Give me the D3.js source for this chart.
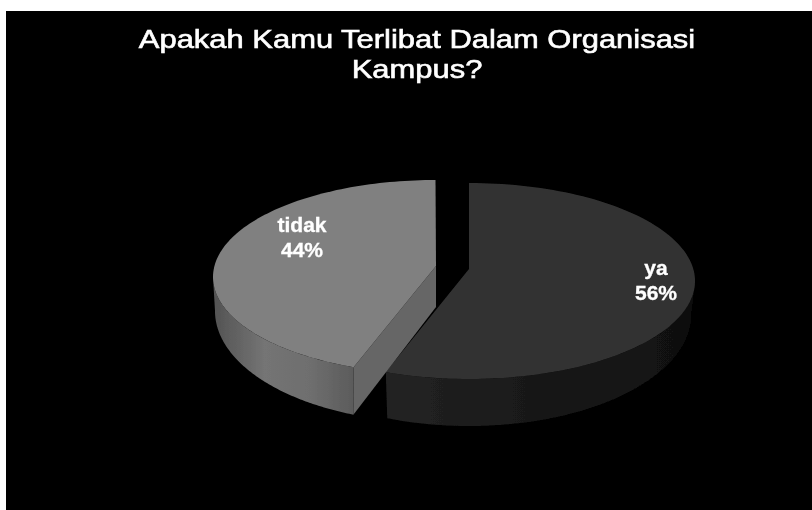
<!DOCTYPE html>
<html>
<head>
<meta charset="utf-8">
<script src="https://cdn.jsdelivr.net/npm/d3@7"></script>
<style>
  html, body { margin: 0; padding: 0; background: #fff; }
  svg { display: block; }
  text { font-family: "Liberation Sans", Arial, sans-serif; fill: #fff; text-anchor: middle; }
</style>
</head>
<body>
<svg width="812" height="510"></svg>
<script>
const categories = ["ya", "tidak"];
const values = [56, 44];
const titleLines = ["Apakah Kamu Terlibat Dalam Organisasi", "Kampus?"];

const width = 812, height = 510;

// each slice is an exploded, tilted disc: top ellipse + bottom ellipse + tip
const geom = {
    ya: {
        top: {cx: 469, cy: 281, rx: 226, ry: 98},
        bottom: {cx: 469, cy: 315, rx: 222, ry: 111},
        tip: [469, 269], fill: "#333333", gradient: "sideYa",
        label: {x: 656, y: 275}
    },
    tidak: {
        top: {cx: 435.5, cy: 277, rx: 222.5, ry: 97},
        bottom: {cx: 434, cy: 311, rx: 219, ry: 111.5},
        tip: [436, 266], tipBottom: [436, 307], fill: "#808080", gradient: "sideTidak",
        label: {x: 302, y: 232}
    }
};

const svg = d3.select("svg");

svg.append("rect")
    .attr("x", 6).attr("y", 11)
    .attr("width", width - 6).attr("height", height - 11)
    .attr("fill", "#000");

const defs = svg.append("defs");

function addGradient(id, x1, x2, stops) {
    const g = defs.append("linearGradient")
        .attr("id", id)
        .attr("gradientUnits", "userSpaceOnUse")
        .attr("x1", x1).attr("x2", x2)
        .attr("y1", 0).attr("y2", 0);
    stops.forEach(s => g.append("stop").attr("offset", s[0]).attr("stop-color", s[1]));
}
addGradient("sideYa", 388, 692, [[0, "#232323"], [0.5, "#181818"], [1, "#101010"]]);
addGradient("sideTidak", 217, 352, [[0, "#555555"], [0.35, "#747474"], [0.7, "#6e6e6e"], [1, "#5c5c5c"]]);

defs.append("filter").attr("id", "soft")
    .append("feGaussianBlur").attr("stdDeviation", 0.5);
defs.append("filter").attr("id", "softText")
    .attr("x", "-5%").attr("width", "110%")
    .append("feGaussianBlur").attr("stdDeviation", 0.35);

const pie = d3.pie().sort(null)(values);
const slices = categories.map((c, i) => ({
    name: c,
    value: values[i],
    start: pie[i].startAngle,
    end: pie[i].endAngle,
    g: geom[c]
}));

// angle is clockwise from 12 o'clock, as d3.pie gives it
const onEllipse = (e, a) => [e.cx + e.rx * Math.sin(a), e.cy - e.ry * Math.cos(a)];
const sample = (e, a0, a1) => d3.range(0, 121).map(i => onEllipse(e, a0 + (a1 - a0) * i / 120));
const line = d3.line();

const plot = svg.append("g").attr("filter", "url(#soft)");

slices.forEach(s => {
    // outer wall, only the part facing the viewer
    const a0 = Math.max(s.start, Math.PI / 2);
    const a1 = Math.min(s.end, Math.PI * 1.5);
    plot.append("path")
        .attr("d", line(sample(s.g.top, a0, a1).concat(sample(s.g.bottom, a1, a0))) + "Z")
        .attr("fill", `url(#${s.g.gradient})`);

    // cut face towards the gap
    if (s.g.tipBottom) {
        plot.append("path")
            .attr("d", line([s.g.tip, onEllipse(s.g.top, s.start), onEllipse(s.g.bottom, s.start), s.g.tipBottom]) + "Z")
            .attr("fill", "#666666");
    }

    plot.append("path")
        .attr("d", line([s.g.tip].concat(sample(s.g.top, s.start, s.end))) + "Z")
        .attr("fill", s.g.fill);
});

// title, the original is stretched sideways
svg.selectAll(".title").data(titleLines).enter().append("text")
    .attr("class", "title")
    .attr("transform", (d, i) => `translate(417,${47.5 + i * 30}) scale(1.19,1)`)
    .attr("font-size", 26)
    .attr("stroke", "#fff").attr("stroke-width", 0.6)
    .attr("filter", "url(#softText)")
    .text(d => d);

// slice labels
slices.forEach(s => {
    [s.name, s.value + "%"].forEach((t, i) => {
        svg.append("text")
            .attr("transform", `translate(${s.g.label.x},${s.g.label.y + i * 24.5}) scale(1.08,1)`)
            .attr("font-size", 19.5)
            .attr("font-weight", "bold")
            .attr("stroke", "#fff").attr("stroke-width", 0.3)
            .attr("filter", "url(#softText)")
            .text(t);
    });
});
</script>
</body>
</html>
